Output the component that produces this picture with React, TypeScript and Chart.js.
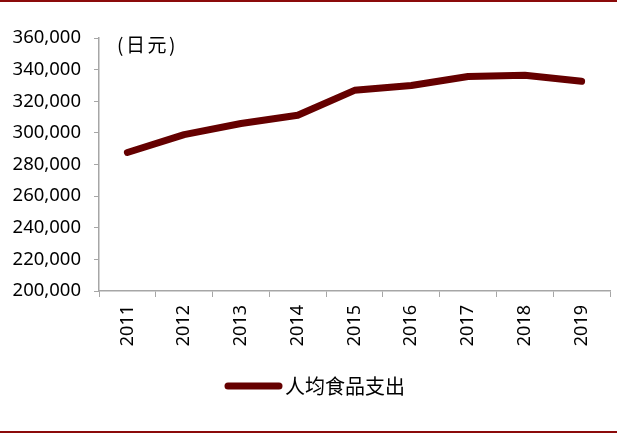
import React, { useEffect, useRef } from "react";
import { Chart, registerables } from "chart.js";

Chart.register(...registerables);

const years = ["2011", "2012", "2013", "2014", "2015", "2016", "2017", "2018", "2019"];
const foodSpending = [287600, 298900, 305900, 311100, 326900, 330000, 335600, 336400, 332600];
const seriesName = "人均食品支出";
const unitLabel = "(日元)";
const yMin = 200000;
const yMax = 360000;
const yStep = 20000;

const LINE_COLOR = "#650000";
const AXIS_COLOR = "#A6A6A6";

export default function App() {
  const ref = useRef<HTMLCanvasElement | null>(null);

  useEffect(() => {
    if (!ref.current) return;
    const decor = {
      id: "decor",
      beforeDraw(chart: any) {
        const ctx = chart.ctx;
        ctx.save();
        ctx.fillStyle = "#8B0A0A";
        ctx.fillRect(0, 0, chart.width, 2);
        ctx.fillRect(0, 431, chart.width, 2);
        ctx.restore();
      },
      afterDraw(chart: any) {
        const ctx = chart.ctx;
        const area = chart.chartArea;
        ctx.save();
        ctx.fillStyle = "#000";
        ctx.font = '19px "Noto Sans CJK SC", "Noto Sans"';
        ctx.textBaseline = "middle";
        ctx.textAlign = "left";
        try {
          (ctx as any).letterSpacing = "2.5px";
        } catch (e) {}
        ctx.fillText(unitLabel, area.left + 18, 45);
        try {
          (ctx as any).letterSpacing = "0px";
        } catch (e) {}
        // legend
        const ly = 386;
        ctx.strokeStyle = LINE_COLOR;
        ctx.lineWidth = 7;
        ctx.lineCap = "round";
        ctx.beginPath();
        ctx.moveTo(228, ly);
        ctx.lineTo(279, ly);
        ctx.stroke();
        ctx.font = '20px "Noto Sans CJK SC"';
        ctx.fillText(seriesName, 285, ly);
        ctx.restore();
      },
    };

    const chart = new Chart(ref.current, {
      type: "line",
      data: {
        labels: years,
        datasets: [
          {
            label: seriesName,
            data: foodSpending,
            borderColor: LINE_COLOR,
            backgroundColor: LINE_COLOR,
            borderWidth: 7,
            borderCapStyle: "round",
            borderJoinStyle: "round",
            pointRadius: 0,
            tension: 0,
          },
        ],
      },
      options: {
        animation: false,
        responsive: false,
        maintainAspectRatio: false,
        layout: { padding: { top: 38, right: 7, bottom: 0, left: 0 } },
        plugins: {
          legend: { display: false },
          tooltip: { enabled: false },
        },
        scales: {
          x: {
            offset: true,
            grid: {
              offset: true,
              drawOnChartArea: false,
              drawTicks: true,
              tickLength: 6,
              color: AXIS_COLOR,
            },
            border: { display: true, color: AXIS_COLOR, width: 1.5 },
            ticks: {
              minRotation: 90,
              maxRotation: 90,
              padding: 8,
              color: "#000",
              font: { family: '"Noto Sans"', size: 18 },
            },
            afterFit(scale: any) {
              scale.height = 145;
            },
          },
          y: {
            min: yMin,
            max: yMax,
            grid: {
              drawOnChartArea: false,
              drawTicks: true,
              tickLength: 5,
              color: AXIS_COLOR,
            },
            border: { display: true, color: AXIS_COLOR, width: 1.5 },
            ticks: {
              stepSize: yStep,
              padding: 13,
              color: "#000",
              font: { family: '"Noto Sans"', size: 18.5 },
              callback: (v: any) => Number(v).toLocaleString("en-US"),
            },
            afterFit(scale: any) {
              scale.width = 99;
            },
          },
        },
      },
      plugins: [decor],
    });
    return () => chart.destroy();
  }, []);

  return (
    <div style={{ position: "fixed", left: 0, top: 0, width: 617, height: 436, background: "#fff" }}>
      <canvas ref={ref} width={617} height={436} style={{ width: 617, height: 436 }} />
    </div>
  );
}
